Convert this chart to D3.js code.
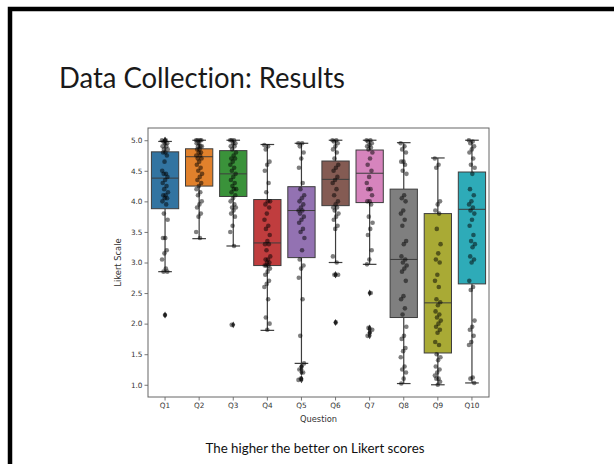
<!DOCTYPE html>
<html>
<head>
<meta charset="utf-8">
<script src="https://cdn.jsdelivr.net/npm/d3@7"></script>
<style>
  html, body { margin: 0; padding: 0; background: #fff; }
  svg { display: block; }
  text { font-variant-ligatures: none; }
</style>
</head>
<body>
<script>
// questions and seaborn (desaturated) palette
var questions = ["Q1", "Q2", "Q3", "Q4", "Q5", "Q6", "Q7", "Q8", "Q9", "Q10"];
var boxColors = ["#3274a1", "#e1812c", "#3a923a", "#c03d3e", "#9372b2",
                 "#845b53", "#d684bd", "#7f7f7f", "#a9aa35", "#2eabb8"];

// box statistics
var q1s        = [3.88, 4.25, 4.08, 2.95, 3.08, 3.93, 3.98, 2.10, 1.52, 2.65];
var medians    = [4.38, 4.73, 4.45, 3.32, 3.85, 4.36, 4.46, 3.05, 2.34, 3.87];
var q3s        = [4.81, 4.86, 4.83, 4.03, 4.24, 4.66, 4.84, 4.20, 3.80, 4.48];
var whiskerLow = [2.85, 3.39, 3.27, 1.89, 1.35, 3.00, 2.97, 1.02, 1.00, 1.03];
var whiskerHigh= [4.98, 5.00, 5.00, 4.93, 4.95, 5.00, 5.00, 4.96, 4.71, 5.00];

// individual responses (strip points)
var scoresQ1 = [5, 5, 4.98, 4.95, 4.95, 4.9, 4.9, 4.85, 4.85, 4.8, 4.8, 4.75, 4.65, 4.5, 4.45, 4.45, 4.4,
  4.35, 4.3, 4.25, 4.2, 4.15, 4.1, 4.1, 4.05, 4.05, 4.0, 3.95, 3.8, 3.7, 3.4, 3.4, 3.2, 3.15, 3.05,
  2.9, 2.85, 2.85, 2.14];
var scoresQ2 = [5, 5, 5, 5, 4.95, 4.95, 4.9, 4.9, 4.9, 4.85, 4.85, 4.8, 4.8, 4.75, 4.75, 4.7, 4.7,
  4.65, 4.6, 4.55, 4.5, 4.45, 4.4, 4.35, 4.3, 4.25, 4.2, 4.15, 4.1, 4.0, 3.95, 3.9, 3.8, 3.75, 3.5, 3.4];
var scoresQ3 = [5, 5, 5, 4.95, 4.95, 4.9, 4.9, 4.85, 4.8, 4.75, 4.7, 4.7, 4.65, 4.6, 4.55, 4.5, 4.45,
  4.4, 4.35, 4.3, 4.25, 4.2, 4.2, 4.15, 4.1, 4.05, 4.0, 3.95, 3.9, 3.9, 3.85, 3.8, 3.75, 3.6, 3.5,
  3.27, 1.98];
var scoresQ4 = [4.92, 4.9, 4.85, 4.65, 4.6, 4.5, 4.3, 4.15, 4.0, 4.0, 3.95, 3.9, 3.8, 3.7, 3.6, 3.55,
  3.45, 3.35, 3.3, 3.3, 3.2, 3.1, 3.05, 3.05, 3.0, 3.0, 2.95, 2.95, 2.95, 2.9, 2.85, 2.8, 2.7, 2.65,
  2.6, 2.4, 2.1, 2.0, 1.9];
var scoresQ5 = [4.95, 4.95, 4.9, 4.8, 4.7, 4.55, 4.3, 4.2, 4.1, 4.05, 4.0, 3.95, 3.9, 3.85, 3.85, 3.8,
  3.75, 3.7, 3.65, 3.55, 3.5, 3.4, 3.2, 3.05, 2.95, 2.9, 2.75, 2.4, 1.8, 1.35, 1.3, 1.25, 1.2, 1.1, 1.08];
var scoresQ6 = [5, 5, 4.98, 4.95, 4.9, 4.85, 4.8, 4.7, 4.6, 4.55, 4.5, 4.4, 4.35, 4.3, 4.2, 4.1, 4.0,
  3.95, 3.9, 3.9, 3.85, 3.8, 3.75, 3.7, 3.6, 3.55, 3.1, 3.0, 2.8, 2.8, 2.02];
var scoresQ7 = [5, 5, 4.98, 4.95, 4.92, 4.9, 4.88, 4.85, 4.8, 4.7, 4.6, 4.5, 4.4, 4.3, 4.2, 4.2, 4.1,
  4.0, 4.0, 3.95, 3.75, 3.65, 3.55, 3.45, 3.2, 3.05, 2.97, 2.5, 1.93, 1.9, 1.85, 1.8];
var scoresQ8 = [4.95, 4.9, 4.85, 4.8, 4.65, 4.65, 4.6, 4.5, 4.45, 4.1, 4.05, 4.0, 3.85, 3.8, 3.7, 3.6,
  3.35, 3.3, 3.1, 3.05, 3.0, 2.95, 2.9, 2.85, 2.7, 2.45, 2.4, 2.25, 2.15, 1.95, 1.8, 1.75, 1.6, 1.55,
  1.45, 1.3, 1.25, 1.2, 1.1, 1.02];
var scoresQ9 = [4.7, 4.6, 4.55, 4.0, 3.95, 3.85, 3.8, 3.55, 3.3, 3.15, 3.05, 3.0, 2.8, 2.7, 2.6, 2.4,
  2.35, 2.3, 2.2, 2.15, 2.1, 2.05, 2.0, 1.95, 1.9, 1.85, 1.7, 1.65, 1.5, 1.45, 1.4, 1.3, 1.25, 1.2,
  1.15, 1.1, 1.1, 1.05, 1.0];
var scoresQ10 = [5, 4.98, 4.95, 4.9, 4.85, 4.8, 4.7, 4.6, 4.55, 4.45, 4.2, 4.1, 4.0, 3.95, 3.9, 3.85,
  3.8, 3.7, 3.6, 3.45, 3.35, 3.3, 3.25, 3.1, 3.05, 3.0, 2.7, 2.6, 2.55, 2.05, 1.95, 1.9, 1.8, 1.7,
  1.65, 1.12, 1.1, 1.03];
var scores = [scoresQ1, scoresQ2, scoresQ3, scoresQ4, scoresQ5,
              scoresQ6, scoresQ7, scoresQ8, scoresQ9, scoresQ10];

var yTicks = [1.0, 1.5, 2.0, 2.5, 3.0, 3.5, 4.0, 4.5, 5.0];

var W = 614, H = 464;
var plot = { left: 148, right: 489, top: 128, bottom: 397 };

var svg = d3.select("body").append("svg")
  .attr("width", W)
  .attr("height", H);

svg.append("rect").attr("width", W).attr("height", H).attr("fill", "#fff");

// slide frame (thick black line top and left)
svg.append("path")
  .attr("d", "M10," + H + " V9 H" + W)
  .attr("fill", "none")
  .attr("stroke", "#000")
  .attr("stroke-width", 4.5);

// slide title and caption
svg.append("text")
  .attr("x", 59)
  .attr("y", 88)
  .attr("font-family", "Lato, 'Open Sans', sans-serif")
  .attr("font-size", 29)
  .attr("textLength", 286)
  .attr("lengthAdjust", "spacingAndGlyphs")
  .attr("fill", "#1a1a1a")
  .text("Data Collection: Results");

svg.append("text")
  .attr("x", 315)
  .attr("y", 453)
  .attr("text-anchor", "middle")
  .attr("font-family", "Lato, 'Open Sans', sans-serif")
  .attr("font-size", 12.5)
  .attr("textLength", 219)
  .attr("lengthAdjust", "spacingAndGlyphs")
  .attr("fill", "#111")
  .text("The higher the better on Likert scores");

// scales
var x = d3.scaleBand().domain(questions).range([plot.left, plot.right]).padding(0);
var y = d3.scaleLinear().domain([0.8, 5.2]).range([plot.bottom, plot.top]);

var boxW = x.bandwidth() * 0.8;
var capW = boxW * 0.5;
var edge = "#3d3d3d";

var g = svg.append("g");

// boxes
var boxes = g.selectAll(".box")
  .data(questions)
  .enter().append("g")
  .attr("class", "box");

boxes.append("line")
  .attr("x1", function(d) { return x(d) + x.bandwidth() / 2; })
  .attr("x2", function(d) { return x(d) + x.bandwidth() / 2; })
  .attr("y1", function(d, i) { return y(whiskerLow[i]); })
  .attr("y2", function(d, i) { return y(q1s[i]); })
  .attr("stroke", edge).attr("stroke-width", 1.2);

boxes.append("line")
  .attr("x1", function(d) { return x(d) + x.bandwidth() / 2; })
  .attr("x2", function(d) { return x(d) + x.bandwidth() / 2; })
  .attr("y1", function(d, i) { return y(q3s[i]); })
  .attr("y2", function(d, i) { return y(whiskerHigh[i]); })
  .attr("stroke", edge).attr("stroke-width", 1.2);

boxes.append("line")
  .attr("x1", function(d) { return x(d) + x.bandwidth() / 2 - capW / 2; })
  .attr("x2", function(d) { return x(d) + x.bandwidth() / 2 + capW / 2; })
  .attr("y1", function(d, i) { return y(whiskerLow[i]); })
  .attr("y2", function(d, i) { return y(whiskerLow[i]); })
  .attr("stroke", edge).attr("stroke-width", 1.2);

boxes.append("line")
  .attr("x1", function(d) { return x(d) + x.bandwidth() / 2 - capW / 2; })
  .attr("x2", function(d) { return x(d) + x.bandwidth() / 2 + capW / 2; })
  .attr("y1", function(d, i) { return y(whiskerHigh[i]); })
  .attr("y2", function(d, i) { return y(whiskerHigh[i]); })
  .attr("stroke", edge).attr("stroke-width", 1.2);

boxes.append("rect")
  .attr("x", function(d) { return x(d) + (x.bandwidth() - boxW) / 2; })
  .attr("y", function(d, i) { return y(q3s[i]); })
  .attr("width", boxW)
  .attr("height", function(d, i) { return y(q1s[i]) - y(q3s[i]); })
  .attr("fill", function(d, i) { return boxColors[i]; })
  .attr("stroke", edge)
  .attr("stroke-width", 1);

boxes.append("line")
  .attr("x1", function(d) { return x(d) + (x.bandwidth() - boxW) / 2; })
  .attr("x2", function(d) { return x(d) + (x.bandwidth() + boxW) / 2; })
  .attr("y1", function(d, i) { return y(medians[i]); })
  .attr("y2", function(d, i) { return y(medians[i]); })
  .attr("stroke", edge).attr("stroke-width", 1);

// fliers (outside the whiskers) as diamonds
var fliers = [];
scores.forEach(function(arr, i) {
  arr.forEach(function(v) {
    if (v < whiskerLow[i] - 0.005 || v > whiskerHigh[i] + 0.005) fliers.push({ q: questions[i], v: v });
  });
});
g.selectAll(".flier")
  .data(fliers)
  .enter().append("path")
  .attr("class", "flier")
  .attr("d", d3.symbol().type(d3.symbolDiamond).size(14))
  .attr("transform", function(d) {
    return "translate(" + (x(d.q) + x.bandwidth() / 2) + "," + y(d.v) + ")";
  })
  .attr("fill", edge);

// strip points with a fixed (non-random) spread
var pts = [];
scores.forEach(function(arr, i) {
  arr.forEach(function(v, j) {
    var off = (((j * 0.618034) % 1) - 0.5) * 0.18;
    pts.push({ q: questions[i], v: v, off: off });
  });
});
g.selectAll(".pt")
  .data(pts)
  .enter().append("circle")
  .attr("class", "pt")
  .attr("cx", function(d) { return x(d.q) + x.bandwidth() * (0.5 + d.off); })
  .attr("cy", function(d) { return y(d.v); })
  .attr("r", 2.3)
  .attr("fill", "#000")
  .attr("fill-opacity", 0.5);

// axes
var yAxis = d3.axisLeft(y).tickValues(yTicks).tickFormat(d3.format(".1f")).tickSize(3.5).tickPadding(2);
var xAxis = d3.axisBottom(x).tickSize(3.5).tickPadding(2);

var ya = svg.append("g")
  .attr("transform", "translate(" + plot.left + ",0)")
  .call(yAxis);
var xa = svg.append("g")
  .attr("transform", "translate(0," + plot.bottom + ")")
  .call(xAxis);

[ya, xa].forEach(function(a) {
  a.select(".domain").remove();
  a.selectAll("line").attr("stroke", "#555").attr("stroke-width", 0.8);
  a.selectAll("text")
    .attr("font-family", "'DejaVu Sans', sans-serif")
    .attr("font-size", 7.3)
    .attr("fill", "#333");
});

// axes frame
svg.append("rect")
  .attr("x", plot.left)
  .attr("y", plot.top)
  .attr("width", plot.right - plot.left)
  .attr("height", plot.bottom - plot.top)
  .attr("fill", "none")
  .attr("stroke", "#666")
  .attr("stroke-width", 1);

// axis labels
svg.append("text")
  .attr("x", (plot.left + plot.right) / 2)
  .attr("y", 422)
  .attr("text-anchor", "middle")
  .attr("font-family", "'DejaVu Sans', sans-serif")
  .attr("font-size", 8.3)
  .attr("fill", "#333")
  .text("Question");

svg.append("text")
  .attr("transform", "translate(121," + ((plot.top + plot.bottom) / 2) + ") rotate(-90)")
  .attr("text-anchor", "middle")
  .attr("font-family", "'DejaVu Sans', sans-serif")
  .attr("font-size", 8.3)
  .attr("fill", "#333")
  .text("Likert Scale");
</script>
</body>
</html>
